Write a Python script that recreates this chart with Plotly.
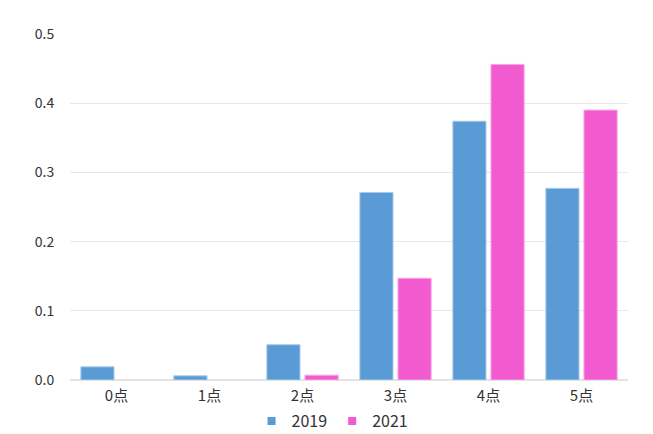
import plotly.graph_objects as go

categories = ["0点", "1点", "2点", "3点", "4点", "5点"]
values_2019 = [0.019, 0.006, 0.051, 0.271, 0.374, 0.277]
values_2021 = [0.0, 0.0, 0.007, 0.147, 0.456, 0.390]
series_names = ["2019", "2021"]
series_colors = ["#5b9bd5", "#f25bd0"]
edge_colors = ["#a9cbea", "#f7a6e4"]
tick_vals = [0.0, 0.1, 0.2, 0.3, 0.4, 0.5]

font_family = "Noto Sans CJK KR, Noto Sans, sans-serif"

fig = go.Figure()
for name, vals, col, edge in zip(series_names, [values_2019, values_2021], series_colors, edge_colors):
    fig.add_trace(go.Bar(
        x=categories, y=vals, name=name, showlegend=False,
        marker=dict(color=col, line=dict(color=edge, width=[1 if v > 0 else 0 for v in vals])),
    ))
# legend proxies with small square symbols
for name, col in zip(series_names, series_colors):
    fig.add_trace(go.Scatter(
        x=[None], y=[None], mode="markers", name=name,
        marker=dict(symbol="square", size=8, color=col),
    ))

fig.update_layout(
    width=653, height=434,
    paper_bgcolor="white", plot_bgcolor="white",
    barmode="group", bargap=0.18, bargroupgap=0.13,
    margin=dict(l=62, r=33, t=26, b=62),
    font=dict(family=font_family, size=14, color="#333333"),
    showlegend=True,
    legend=dict(orientation="h", xref="container", yref="container",
                x=0.497, xanchor="center", y=0.048, yanchor="middle",
                font=dict(size=16, color="#333333"), itemwidth=30,
                traceorder="normal", tracegroupgap=0),
    xaxis=dict(showgrid=False, showline=False, ticks="outside", ticklen=2,
               tickcolor="rgba(0,0,0,0)", automargin=False,
               tickfont=dict(size=15, color="#333333")),
    yaxis=dict(range=[0, 0.5], tickvals=tick_vals, tickformat=".1f",
               showgrid=True, gridcolor="#e8e8e8", gridwidth=1,
               zeroline=True, zerolinecolor="#e3e3e3", zerolinewidth=2,
               ticks="outside", ticklen=12, tickcolor="rgba(0,0,0,0)", automargin=False,
               tickfont=dict(size=14, color="#333333")),
    shapes=[dict(type="line", xref="paper", yref="paper", x0=1.0376, x1=1.0376, y0=-0.2, y1=1.08,
                 line=dict(color="#eeeeee", width=2))],
)

fig.write_html("out.html")
